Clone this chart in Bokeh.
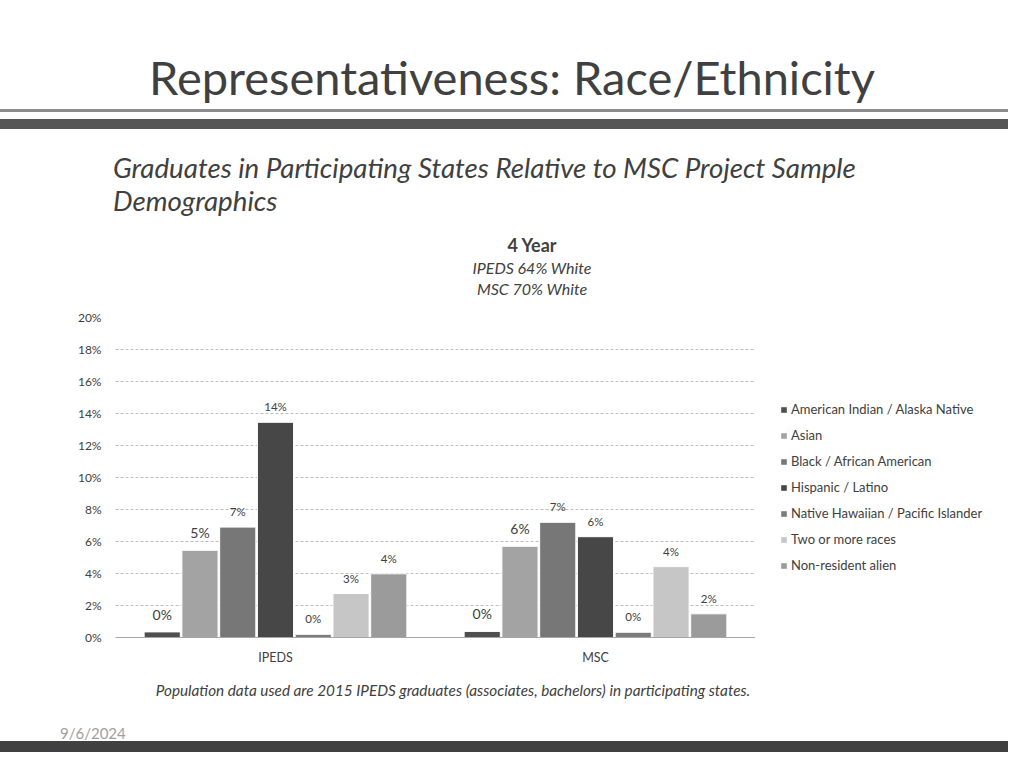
from bokeh.plotting import figure
from bokeh.models import (FactorRange, Range1d, Legend, LegendItem, Div,
                          PrintfTickFormatter, SingleIntervalTicker, ColumnDataSource)
from bokeh.layouts import column, row
from bokeh.transform import dodge
from bokeh.core.properties import value
from bokeh.embed import file_html
from bokeh.resources import INLINE

groups = ["IPEDS", "MSC"]
series = ["American Indian / Alaska Native", "Asian", "Black / African American",
          "Hispanic / Latino", "Native Hawaiian / Pacific Islander",
          "Two or more races", "Non-resident alien"]
ipeds = [0.35, 5.45, 6.9, 13.45, 0.2, 2.75, 3.98]
msc = [0.38, 5.7, 7.2, 6.3, 0.33, 4.43, 1.48]
ipeds_labels = ["0%", "5%", "7%", "14%", "0%", "3%", "4%"]
msc_labels = ["0%", "6%", "7%", "6%", "0%", "4%", "2%"]
label_sizes = ["14px", "14px", "11.5px", "11.5px", "11.5px", "11.5px", "11.5px"]
colors = ["#4f4f4f", "#a3a3a3", "#777777", "#474747", "#7c7c7c", "#c6c6c6", "#9b9b9b"]

FONT = "Lato"
TXT = "#404040"
W = 1008
CHART_W = 755


def box(left, top, width, height, inner="", style=""):
    return (f'<div style="position:absolute;left:{left}px;top:{top}px;width:{width}px;'
            f'height:{height}px;{style}">{inner}</div>')


def line_text(text, left, mid, width, size, align="left", extra=""):
    lh = int(size * 1.25)
    return box(left, mid - lh / 2, width, lh, text,
               f"font-size:{size}px;line-height:{lh}px;text-align:{align};white-space:nowrap;{extra}")


# ---------------- header (page y 0..300) ----------------
head_html = (
    f'<div style="position:relative;width:{W}px;height:300px;font-family:{FONT};color:{TXT};overflow:hidden;">'
    + box(0, 109, W, 3, "", "background:#8c8c8c;")
    + box(0, 119, W, 10, "", "background:#555555;")
    + line_text("Representativeness: Race/Ethnicity", 0, 77, 1024, 47, "center")
    + line_text("Graduates in Participating States Relative to MSC Project Sample", 113, 168, 890, 27.7,
                extra="font-style:italic;")
    + line_text("Demographics", 113, 201, 890, 27.7, extra="font-style:italic;")
    + line_text("4 Year", 332, 245, 400, 18, "center", "font-weight:bold;")
    + line_text("IPEDS 64% White", 332, 268, 400, 16, "center", "font-style:italic;")
    + line_text("MSC 70% White", 332, 289, 400, 16, "center", "font-style:italic;")
    + '</div>'
)
head = Div(text=head_html, width=W, height=300, margin=0)

# ---------------- chart (page y 300..672) ----------------
p = figure(width=CHART_W, height=372, x_range=FactorRange(*groups, range_padding=0),
           y_range=Range1d(0, 20), output_backend="svg", toolbar_location=None,
           min_border_left=115, min_border_right=0, min_border_top=17,
           min_border_bottom=35, margin=0)
p.outline_line_color = None

p.yaxis.ticker = SingleIntervalTicker(interval=2)
p.yaxis.formatter = PrintfTickFormatter(format="%d%%")
p.yaxis.axis_line_color = None
p.yaxis.major_tick_line_color = None
p.yaxis.minor_tick_line_color = None
p.yaxis.major_label_standoff = 8
p.yaxis.major_label_text_font = FONT
p.yaxis.major_label_text_font_size = "12px"
p.yaxis.major_label_text_color = TXT
p.xaxis.axis_line_color = "#a6a6a6"
p.xaxis.major_tick_line_color = None
p.xaxis.major_label_standoff = 6
p.xaxis.major_label_text_font = FONT
p.xaxis.major_label_text_font_size = "12.5px"
p.xaxis.major_label_text_color = TXT
p.xgrid.grid_line_color = None
p.ygrid.grid_line_color = "#bdbdbd"
p.ygrid.grid_line_dash = "3 2"

# ---------------- legend panel (right of chart) ----------------
lf = figure(width=W - CHART_W, height=372, x_range=Range1d(-200, -199), y_range=Range1d(-200, -199),
            x_axis_type=None, y_axis_type=None, output_backend="svg", toolbar_location=None,
            min_border_left=0, min_border_right=0, min_border_top=17, min_border_bottom=35,
            margin=0)
lf.outline_line_color = None
lf.xgrid.grid_line_color = None
lf.ygrid.grid_line_color = None

items = []
for i, name in enumerate(series):
    off = (i - 3) * 0.118
    src = ColumnDataSource(dict(cat=groups, val=[ipeds[i], msc[i]],
                                lab=[ipeds_labels[i], msc_labels[i]],
                                size=[label_sizes[i], label_sizes[i]]))
    p.vbar(x=dodge("cat", off, range=p.x_range), top="val", width=0.113, source=src,
           fill_color=colors[i], line_color="white", line_width=1)
    p.text(x=dodge("cat", off, range=p.x_range), y="val", text="lab", source=src,
           text_align="center", text_baseline="bottom", y_offset=-9,
           text_font=value(FONT), text_font_size="size", text_color=TXT)
    # legend key renderer (same data, lies outside the legend panel's ranges)
    r = lf.vbar(x="val", top="val", width=0.1, source=src,
                fill_color=colors[i], line_color=None)
    items.append(LegendItem(label=name, renderers=[r]))

legend = Legend(items=items, location=(25, 62), orientation="vertical",
                glyph_width=7, glyph_height=7, label_standoff=4, spacing=6,
                label_height=20, padding=0, margin=0, border_line_color=None,
                background_fill_alpha=0, label_text_font=FONT,
                label_text_font_size="13px", label_text_color=TXT)
lf.add_layout(legend, "center")

# ---------------- footer (page y 672..752) ----------------
foot_html = (
    f'<div style="position:relative;width:{W}px;height:80px;font-family:{FONT};color:{TXT};overflow:hidden;">'
    + line_text("Population data used are 2015 IPEDS graduates (associates, bachelors) in participating states.",
                103, 18, 700, 15.3, "center", "font-style:italic;")
    + line_text("9/6/2024", 60, 61, 200, 15, extra="color:#a0a0a0;")
    + box(0, 69, W, 11, "", "background:#404040;")
    + '</div>'
)
foot = Div(text=foot_html, width=W, height=80, margin=0)

layout = column(head, row(p, lf, spacing=0), foot, spacing=0)
open("out.html", "w").write(file_html(layout, INLINE))
